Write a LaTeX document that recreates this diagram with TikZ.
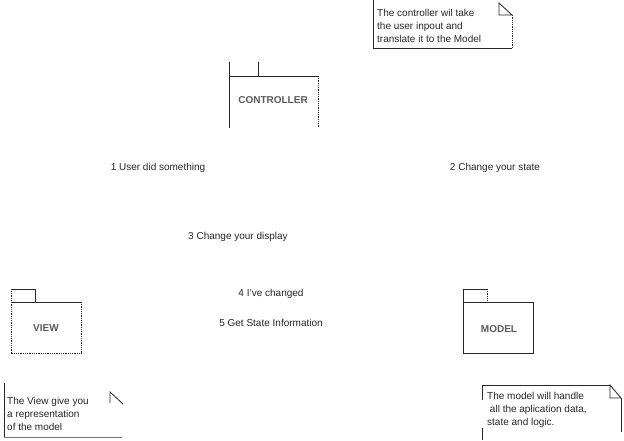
\documentclass[tikz,border=0pt]{standalone}
\usepackage{fontspec}
\setmainfont{Liberation Sans}
\usetikzlibrary{positioning}

\begin{document}
\begin{tikzpicture}[x=1pt, y=-1pt
    , msg/.style = {font=\fontsize{10}{12.5}\selectfont, text=black!85, inner sep=0pt}
    , pkgname/.style = {font=\fontsize{10}{12}\selectfont\bfseries, text=black!65, inner sep=0pt}
    , notetext/.style = {font=\fontsize{10}{12.9}\selectfont, text=black!85, align=left, anchor=north west, inner sep=0pt}
    , solidedge/.style = {draw=black!85, line width=0.8pt}
    , dotedge/.style = {draw=black!85, densely dotted, line width=0.8pt}
]
\useasboundingbox (0,0) rectangle (624,440);

% packages
\draw[solidedge] (229,128) -- (229,62);
\draw[solidedge] (258,62) -- (258,76);
\draw[solidedge] (229,76) -- (318,76);
\draw[dotedge] (318,76) -- (318,128);
\node[pkgname] (controller) at (273,100) {CONTROLLER};

\draw[dotedge] (11,353) -- (11,289);
\draw[solidedge] (11,289) -- (35,289) -- (35,302);
\draw[solidedge] (11,302) -- (81,302);
\draw[dotedge] (81,302) -- (81,353) -- (11,353);
\node[pkgname] (view) at (46,328) {VIEW};

\draw[solidedge] (463,353) -- (463,289) -- (487,289);
\draw[dotedge] (487,289) -- (487,302);
\draw[solidedge] (463,302) -- (533,302) -- (533,353) -- (463,353);
\node[pkgname] (model) at (499,329) {MODEL};

% messages
\node[msg] (m1) at (158,168) {1 User did something};
\node[msg] (m2) at (495,168) {2 Change your state};
\node[msg] (m3) at (238,237) {3 Change your display};
\node[msg] (m4) at (271,294) {4 I've changed};
\node[msg] (m5) at (271,323) {5 Get State Information};

% notes
\draw[solidedge] (373,0) -- (373,48) -- (512,48);
\draw[dotedge] (512,48) -- (512,15);
\draw[solidedge] (499,3) -- (499,15) -- (512,15) -- cycle;
\node[notetext] (ctrlnote) at (377,9.5) {The controller wil take\\the user inpout and\\translate it to the Model};

\draw[solidedge] (4,383) -- (4,437);
\draw[draw=black!55, line width=0.8pt] (4,437) -- (122,437);
\draw[solidedge] (110,403) -- (110,392) -- (123,404);
\node[notetext] (viewnote) at (7,397) {The View give you\\a representation\\of the model};

\draw[solidedge] (482,400) -- (482,385) -- (610,385);
\draw[solidedge] (482,428) -- (482,440);
\draw[solidedge] (610,385) -- (610,398) -- (621,398) -- cycle;
\draw[solidedge] (621,398) -- (621,432);
\node[notetext] (modelnote) at (487,392) {The model will handle\\\ all the aplication data,\\state and logic.};
\end{tikzpicture}
\end{document}
